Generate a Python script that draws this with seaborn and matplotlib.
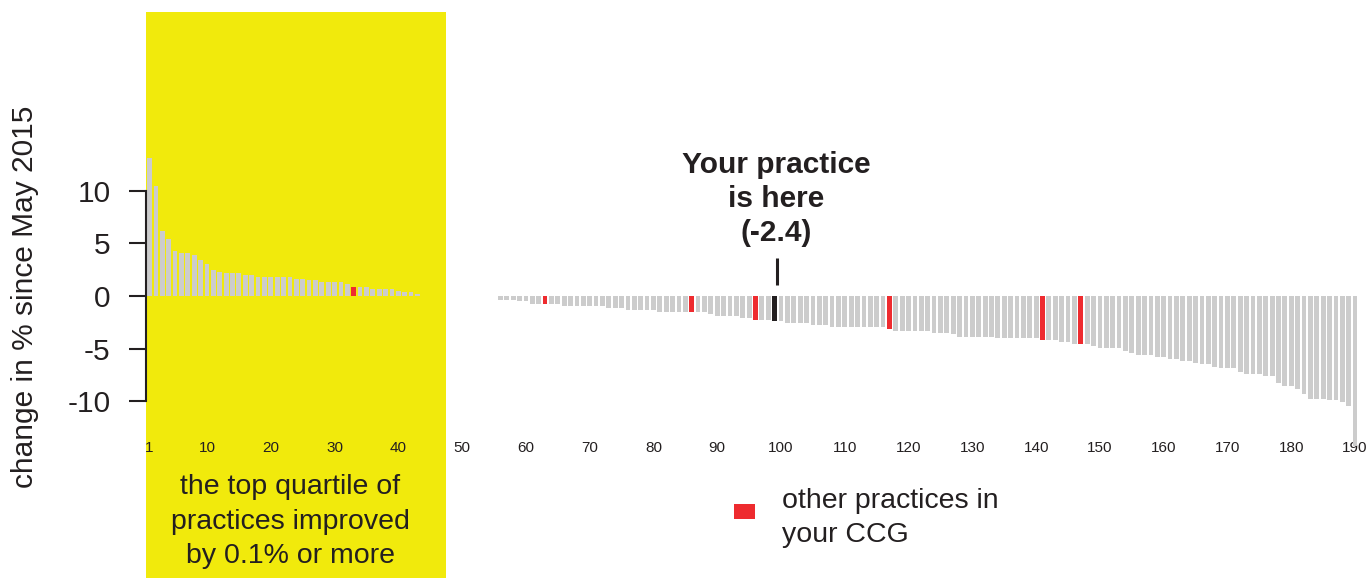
import matplotlib
matplotlib.use("Agg")
import matplotlib.pyplot as plt
from matplotlib.patches import Rectangle
import pandas as pd
import seaborn as sns

# change in % since May 2015 for each practice, ranked 1..190
change = [
    13.1, 10.4, 6.2, 5.4, 4.3, 4.1, 4.1, 3.9, 3.4, 3.0,
    2.5, 2.3, 2.2, 2.2, 2.2, 2.0, 2.0, 1.8, 1.8, 1.8,
    1.8, 1.8, 1.8, 1.6, 1.6, 1.5, 1.5, 1.3, 1.3, 1.3,
    1.3, 1.1, 0.9, 0.9, 0.9, 0.7, 0.7, 0.7, 0.7, 0.5,
    0.4, 0.4, 0.2, 0.0, 0.0, 0.0, 0.0, 0.0, 0.0, 0.0,
    0.0, 0.0, 0.0, 0.0, 0.0, -0.4, -0.4, -0.4, -0.5, -0.5,
    -0.8, -0.8, -0.8, -0.8, -0.8, -0.95, -0.95, -0.95, -0.95, -0.95,
    -0.95, -0.95, -1.15, -1.15, -1.15, -1.35, -1.35, -1.35, -1.35, -1.35,
    -1.5, -1.5, -1.5, -1.5, -1.5, -1.5, -1.5, -1.5, -1.7, -1.9,
    -1.9, -1.9, -1.9, -2.05, -2.05, -2.25, -2.25, -2.25, -2.4, -2.4,
    -2.55, -2.55, -2.55, -2.55, -2.75, -2.75, -2.75, -2.9, -2.9, -2.9,
    -2.9, -2.9, -2.9, -2.9, -2.9, -2.9, -3.1, -3.3, -3.3, -3.3,
    -3.3, -3.3, -3.3, -3.5, -3.5, -3.5, -3.65, -3.85, -3.85, -3.85,
    -3.85, -3.85, -3.85, -4.0, -4.0, -4.0, -4.0, -4.0, -4.0, -4.0,
    -4.2, -4.2, -4.2, -4.35, -4.35, -4.55, -4.55, -4.6, -4.75, -4.9,
    -4.9, -4.9, -4.9, -5.25, -5.4, -5.6, -5.6, -5.6, -5.75, -5.75,
    -5.95, -5.95, -6.15, -6.15, -6.35, -6.5, -6.5, -6.7, -6.85, -6.85,
    -6.85, -7.2, -7.4, -7.4, -7.4, -7.55, -7.55, -8.3, -8.5, -8.5,
    -8.85, -9.35, -9.75, -9.75, -9.75, -9.9, -9.9, -10.1, -10.45, -14.2,
]
ccg_ranks = [33, 63, 86, 96, 117, 141, 147]
your_rank = 99
your_value = -2.4
top_quartile_end = 47.5

xtick_pos = [1, 10, 20, 30, 40, 50, 60, 70, 80, 90, 100,
             110, 120, 130, 140, 150, 160, 170, 180, 190]
ytick_pos = [-10, -5, 0, 5, 10]

GREY = "#CCCCCC"
RED = "#EE2B2F"
INK = "#231F20"
YELLOW = "#F1EA0C"

ranks = list(range(1, len(change) + 1))
groups = []
for r in ranks:
    if r == your_rank:
        groups.append("you")
    elif r in ccg_ranks:
        groups.append("ccg")
    else:
        groups.append("other")
df = pd.DataFrame({"rank": ranks, "change": change, "group": groups})

sns.set_style("white")
plt.rcParams["font.family"] = ["Liberation Sans", "DejaVu Sans"]

W, H = 1372, 578
fig = plt.figure(figsize=(W / 100, H / 100), dpi=100)
ax = fig.add_axes([0, 0, 1, 1])

# pixel helper (axes fill the whole figure)
def px(x, y):
    return x / W, 1 - y / H

ax.axvspan(0.5, top_quartile_end, ymin=0, ymax=1 - 12 / H,
           color=YELLOW, lw=0, zorder=0)

sns.barplot(data=df, x="rank", y="change", hue="group",
            palette={"other": GREY, "ccg": RED, "you": INK},
            native_scale=True, width=0.75, dodge=False, saturation=1,
            errorbar=None, legend=False, linewidth=0, ax=ax)

ax.set_xlim(-22.455, 192.66)
ax.set_ylim(-26.78, 28.11)

for s in ["top", "right"]:
    ax.spines[s].set_visible(False)
ax.spines["bottom"].set_position(("data", -13.75))
ax.spines["bottom"].set_visible(False)
ax.spines["left"].set_position(("data", 0.5))
ax.spines["left"].set_bounds(-10, 10)
ax.spines["left"].set_linewidth(1.5)
ax.spines["left"].set_color(INK)

ax.set_yticks(ytick_pos, labels=[str(v) for v in ytick_pos])
ax.tick_params(axis="y", left=True, direction="out", length=12.2, width=1.5,
               pad=13.5, labelsize=21.5, colors=INK)
ax.set_xticks(xtick_pos, labels=[str(v) for v in xtick_pos])
ax.tick_params(axis="x", bottom=True, length=0, pad=0, labelsize=11, colors=INK)

ax.set_xlabel("")
ax.set_ylabel("change in % since May 2015", fontsize=21.5, color=INK)
ax.yaxis.label.set_verticalalignment("center")
ax.yaxis.set_label_coords(*px(25, 297))

# your practice (va=baseline anchors the last line)
ax.text(your_rank + 0.3, (296 - 241) / 10.53,
        f"Your practice\nis here\n({your_value})",
        ha="center", va="baseline", fontsize=21.5, fontweight="bold",
        color=INK, linespacing=1.28)
ax.vlines(your_rank + 0.3, 1.05, 3.6, color=INK, lw=2.2)

# yellow note
ax.text(*px(290, 563), "the top quartile of\npractices improved\nby 0.1% or more",
        transform=ax.transAxes, ha="center", va="baseline",
        fontsize=20.5, color=INK, linespacing=1.42)

# legend
ax.add_patch(Rectangle(px(734, 519), 21 / W, 15 / H, transform=ax.transAxes,
                       color=RED, lw=0))
ax.text(*px(782, 542), "other practices in\nyour CCG", transform=ax.transAxes,
        ha="left", va="baseline", fontsize=20.5, color=INK, linespacing=1.4)

fig.savefig("out.png", dpi=100)
